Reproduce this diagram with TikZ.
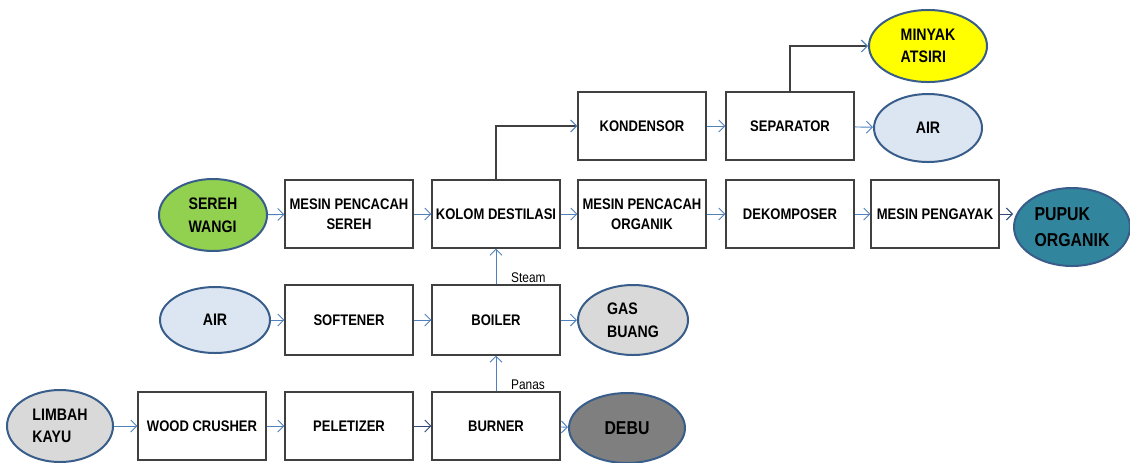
\documentclass[tikz,border=0pt]{standalone}
\usepackage{fontspec}
\setmainfont{Liberation Sans}[FakeStretch=0.85]
\usetikzlibrary{shapes.geometric, arrows.meta}
\definecolor{flowblue}{HTML}{4F81BD}
\definecolor{flownavy}{HTML}{2F4A7A}
\definecolor{linegray}{HTML}{404040}
\definecolor{boxgray}{HTML}{404040}
\definecolor{rimblue}{HTML}{385D8A}
\definecolor{serehgreen}{HTML}{92D050}
\definecolor{waterblue}{HTML}{DCE6F2}
\definecolor{lightash}{HTML}{D9D9D9}
\definecolor{darkash}{HTML}{7F7F7F}
\definecolor{oilyellow}{HTML}{FFFF00}
\definecolor{pupukteal}{HTML}{31859C}

\begin{document}
\begin{tikzpicture}[x=0.75pt, y=-0.75pt,
  unit/.style={draw=boxgray, line width=0.9pt, fill=white, minimum width=96pt, minimum height=51pt, inner sep=0pt, align=center, font=\bfseries\fontsize{11.5}{15}\selectfont},
  product/.style={ellipse, draw=rimblue, line width=1.5pt, inner sep=0pt, align=left, font=\bfseries\fontsize{12.5}{17}\selectfont},
  flow/.style={draw=flowblue, line width=0.7pt, -{Straight Barb[length=4.5pt,width=9pt]}},
  elbow/.style={draw=linegray, line width=0.8pt, -{Straight Barb[length=4.5pt,width=9pt,color=flowblue]}},
  lbl/.style={font=\fontsize{10.5}{12}\selectfont, inner sep=1pt}]
\useasboundingbox (0,0) rectangle (1130,462);

\node[unit] (kondensor) at (642,126) {KONDENSOR};
\node[unit] (separator) at (790,126) {SEPARATOR};
\node[unit] (pencacahsereh) at (349,214) {MESIN PENCACAH\\SEREH};
\node[unit] (kolom) at (496,214) {KOLOM DESTILASI};
\node[unit] (pencacahorganik) at (642,214) {MESIN PENCACAH\\ORGANIK};
\node[unit] (dekomposer) at (790,214) {DEKOMPOSER};
\node[unit] (pengayak) at (935,214) {MESIN PENGAYAK};
\node[unit, minimum height=52.5pt] (softener) at (349,320) {SOFTENER};
\node[unit, minimum height=52.5pt] (boiler) at (496,320) {BOILER};
\node[unit] (crusher) at (202,426) {WOOD CRUSHER};
\node[unit] (peletizer) at (349,426) {PELETIZER};
\node[unit] (burner) at (496,426) {BURNER};

\node[product, fill=oilyellow, minimum width=88.5pt, minimum height=54pt] (minyak) at (928,46) {MINYAK\\ATSIRI};
\node[product, fill=waterblue, minimum width=81pt, minimum height=51pt] (airatas) at (928,128) {AIR};
\node[product, fill=serehgreen, minimum width=81pt, minimum height=54pt] (sereh) at (213,215) {SEREH\\WANGI};
\node[product, fill=pupukteal, minimum width=87pt, minimum height=58.5pt, font=\bfseries\fontsize{14}{19}\selectfont] (pupuk) at (1072,227) {PUPUK\\ORGANIK};
\node[product, fill=waterblue, minimum width=82.5pt, minimum height=49.5pt] (airbawah) at (215,320) {AIR};
\node[product, fill=lightash, minimum width=82.5pt, minimum height=52.5pt] (gas) at (633,320) {GAS\\BUANG};
\node[product, fill=lightash, minimum width=79.5pt, minimum height=54pt] (limbah) at (60,426) {LIMBAH\\KAYU};
\node[product, fill=darkash, minimum width=87pt, minimum height=52.5pt, font=\bfseries\fontsize{14}{17}\selectfont] (debu) at (627,428) {DEBU};

\draw[flow] (kondensor) -- (separator);
\draw[flow] (separator) -- (airatas);
\draw[flow] (sereh) -- (pencacahsereh);
\draw[flow] (pencacahsereh) -- (kolom);
\draw[flow] (kolom) -- (pencacahorganik);
\draw[flow] (pencacahorganik) -- (dekomposer);
\draw[flow] (dekomposer) -- (pengayak);
\draw[flow, draw=flownavy] (pengayak.east) -- (pengayak.east -| pupuk.west);
\draw[flow] (airbawah) -- (softener);
\draw[flow] (softener) -- (boiler);
\draw[flow] (boiler) -- (gas);
\draw[flow] (limbah) -- (crusher);
\draw[flow] (crusher) -- (peletizer);
\draw[flow, draw=flownavy] (peletizer) -- (burner);
\draw[flow] (burner) -- (debu);

\draw[elbow] (kolom.north) |- (kondensor.west);
\draw[elbow] (separator.north) |- (minyak.west);
\draw[flow] (boiler.north) -- node[lbl, at start, above right, xshift=10pt] {Steam} (kolom.south);
\draw[flow] (burner.north) -- node[lbl, at start, above right, xshift=10pt] {Panas} (boiler.south);
\end{tikzpicture}
\end{document}
